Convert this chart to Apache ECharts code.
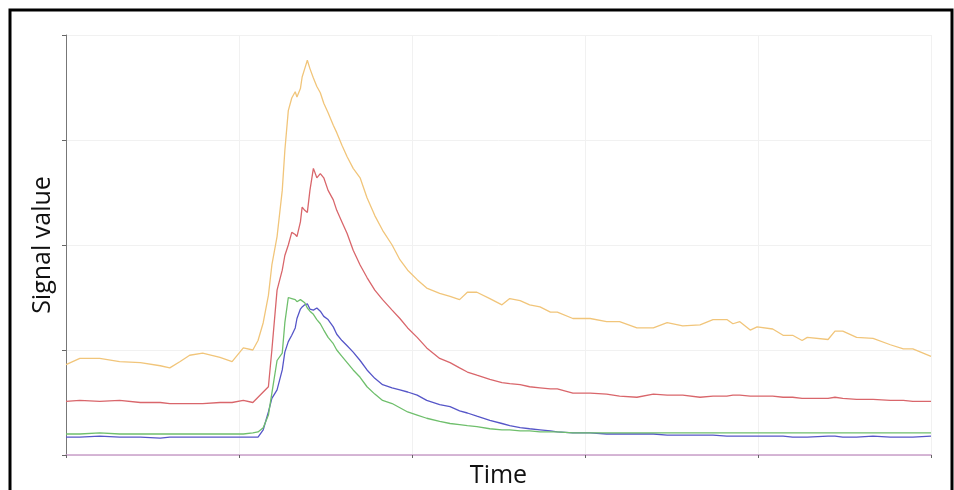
<!DOCTYPE html>
<html>
<head>
<meta charset="utf-8">
<script src="https://cdn.jsdelivr.net/npm/echarts@6/dist/echarts.min.js"></script>
<style>
    html, body { margin: 0; padding: 0; background: #fff; }
    #box { width: 954px; height: 490px; }
</style>
</head>
<body>
<div id="box"></div>
<script>
// time axis runs 0..100 (no labels shown), signal 0..400
var times = [0, 1.6, 3.9, 6.2, 8.6, 10.9, 12.0, 13.2, 14.3, 15.8, 17.8, 19.2, 20.5, 21.6, 22.2, 22.8, 23.4, 23.8,
    24.4, 25.0, 25.3, 25.7, 26.1, 26.5, 26.7, 27.1, 27.3, 27.6, 27.9, 28.2, 28.6, 29.0, 29.4, 29.8, 30.3, 30.9,
    31.3, 31.9, 32.5, 33.2, 34.0, 34.8, 35.7, 36.6, 37.7, 38.6, 39.5, 40.6, 41.7, 43.2, 44.4, 45.5, 46.4, 47.5,
    49.0, 50.4, 51.3, 52.5, 53.6, 54.8, 56.0, 56.8, 58.6, 60.6, 62.5, 64.0, 66.0, 67.9, 69.5, 71.3, 73.3, 74.8,
    76.4, 77.1, 77.9, 79.1, 79.9, 81.7, 82.9, 84.0, 85.1, 85.7, 88.1, 88.9, 89.8, 91.4, 93.3, 95.3, 96.8, 97.9, 100];

var orange = [86, 92, 92, 89, 88, 85, 83, 89, 95, 97, 93, 89, 102, 100, 109, 126, 152, 181,
    208, 252, 290, 328, 340, 346, 341, 349, 360, 368, 376, 368, 359, 351, 345, 335, 326, 314,
    307, 295, 284, 273, 264, 245, 228, 214, 200, 186, 176, 167, 159, 154, 151, 148, 155, 155,
    149, 143, 149, 147, 143, 141, 136, 136, 130, 130, 127, 127, 121, 121, 126, 123, 124, 129,
    129, 125, 127, 119, 122, 120, 114, 114, 109, 112, 110, 118, 118, 112, 111, 105, 101, 101, 94];

var red = [51, 52, 51, 52, 50, 50, 49, 49, 49, 49, 50, 50, 52, 50, 55, 60, 65, 100,
    157, 176, 190, 200, 212, 210, 208, 222, 236, 233, 231, 252, 273, 264, 268, 264, 252, 243,
    233, 222, 211, 195, 181, 169, 157, 148, 138, 130, 121, 112, 102, 92, 88, 83, 79, 76,
    72, 69, 68, 67, 65, 64, 63, 63, 59, 59, 58, 56, 55, 58, 57, 57, 55, 56,
    56, 57, 57, 56, 56, 56, 55, 55, 54, 54, 54, 55, 54, 53, 53, 52, 52, 51, 51];

var green = [20, 20, 21, 20, 20, 20, 20, 20, 20, 20, 20, 20, 20, 21, 22, 26, 38, 59,
    90, 97, 126, 150, 149, 148, 146, 148, 149, 145, 140, 137, 134, 129, 125, 119, 112, 106,
    100, 94, 88, 81, 74, 65, 58, 52, 49, 45, 41, 38, 35, 32, 30, 29, 28, 27,
    25, 24, 24, 23, 23, 22, 22, 22, 21, 21, 21, 21, 21, 21, 21, 21, 21, 21,
    21, 21, 21, 21, 21, 21, 21, 21, 21, 21, 21, 21, 21, 21, 21, 21, 21, 21, 21];

var blue = [17, 17, 18, 17, 17, 16, 17, 17, 17, 17, 17, 17, 17, 17, 17, 24, 41, 54,
    62, 81, 98, 108, 114, 121, 130, 139, 141, 143, 144, 139, 138, 140, 137, 132, 129, 122,
    115, 109, 104, 98, 90, 81, 73, 67, 64, 62, 60, 57, 52, 48, 46, 42, 40, 37,
    33, 30, 28, 26, 25, 24, 23, 22, 21, 21, 20, 20, 20, 20, 19, 19, 19, 19,
    18, 18, 18, 18, 18, 18, 18, 17, 17, 17, 18, 18, 17, 17, 18, 17, 17, 17, 18];

function pairs(vals) {
    return times.map(function (t, i) { return [t, vals[i]]; });
}

var myChart = echarts.init(document.getElementById('box'));
var option = {
    backgroundColor: '#fff',
    animation: false,
    graphic: [{
        type: 'rect',
        shape: { x: 10, y: 10, width: 942, height: 500 },
        style: { fill: 'none', stroke: '#000', lineWidth: 3 },
        silent: true
    }],
    grid: { left: 66, right: 23, top: 35, bottom: 35, outerBoundsMode: 'none' },
    xAxis: {
        type: 'value',
        min: 0,
        max: 100,
        interval: 20,
        name: 'Time',
        nameLocation: 'middle',
        nameGap: 8,
        nameTextStyle: { fontFamily: 'Open Sans', fontSize: 25, color: '#111', verticalAlign: 'top' },
        axisLine: { lineStyle: { color: '#c99fc9', width: 1.5 } },
        axisTick: { show: true, length: 3, lineStyle: { color: '#666' } },
        axisLabel: { show: false },
        splitLine: { show: true, lineStyle: { color: '#f1f1f1' } }
    },
    yAxis: {
        type: 'value',
        min: 0,
        max: 400,
        interval: 100,
        name: 'Signal value',
        nameLocation: 'middle',
        nameGap: 11,
        nameTextStyle: { fontFamily: 'Open Sans', fontSize: 25, color: '#111' },
        axisLine: { show: true, lineStyle: { color: '#777', width: 1 } },
        axisTick: { show: true, length: 4, lineStyle: { color: '#666' } },
        axisLabel: { show: false },
        splitLine: { show: true, lineStyle: { color: '#f1f1f1' } }
    },
    series: [
        { name: 'orange', type: 'line', data: pairs(orange), showSymbol: false,
          lineStyle: { color: '#f1c57a', width: 1.3 } },
        { name: 'red', type: 'line', data: pairs(red), showSymbol: false,
          lineStyle: { color: '#d9666b', width: 1.3 } },
        { name: 'blue', type: 'line', data: pairs(blue), showSymbol: false,
          lineStyle: { color: '#5656c8', width: 1.3 } },
        { name: 'green', type: 'line', data: pairs(green), showSymbol: false,
          lineStyle: { color: '#6fbf6c', width: 1.3 } }
    ]
};
myChart.setOption(option);
</script>
</body>
</html>
